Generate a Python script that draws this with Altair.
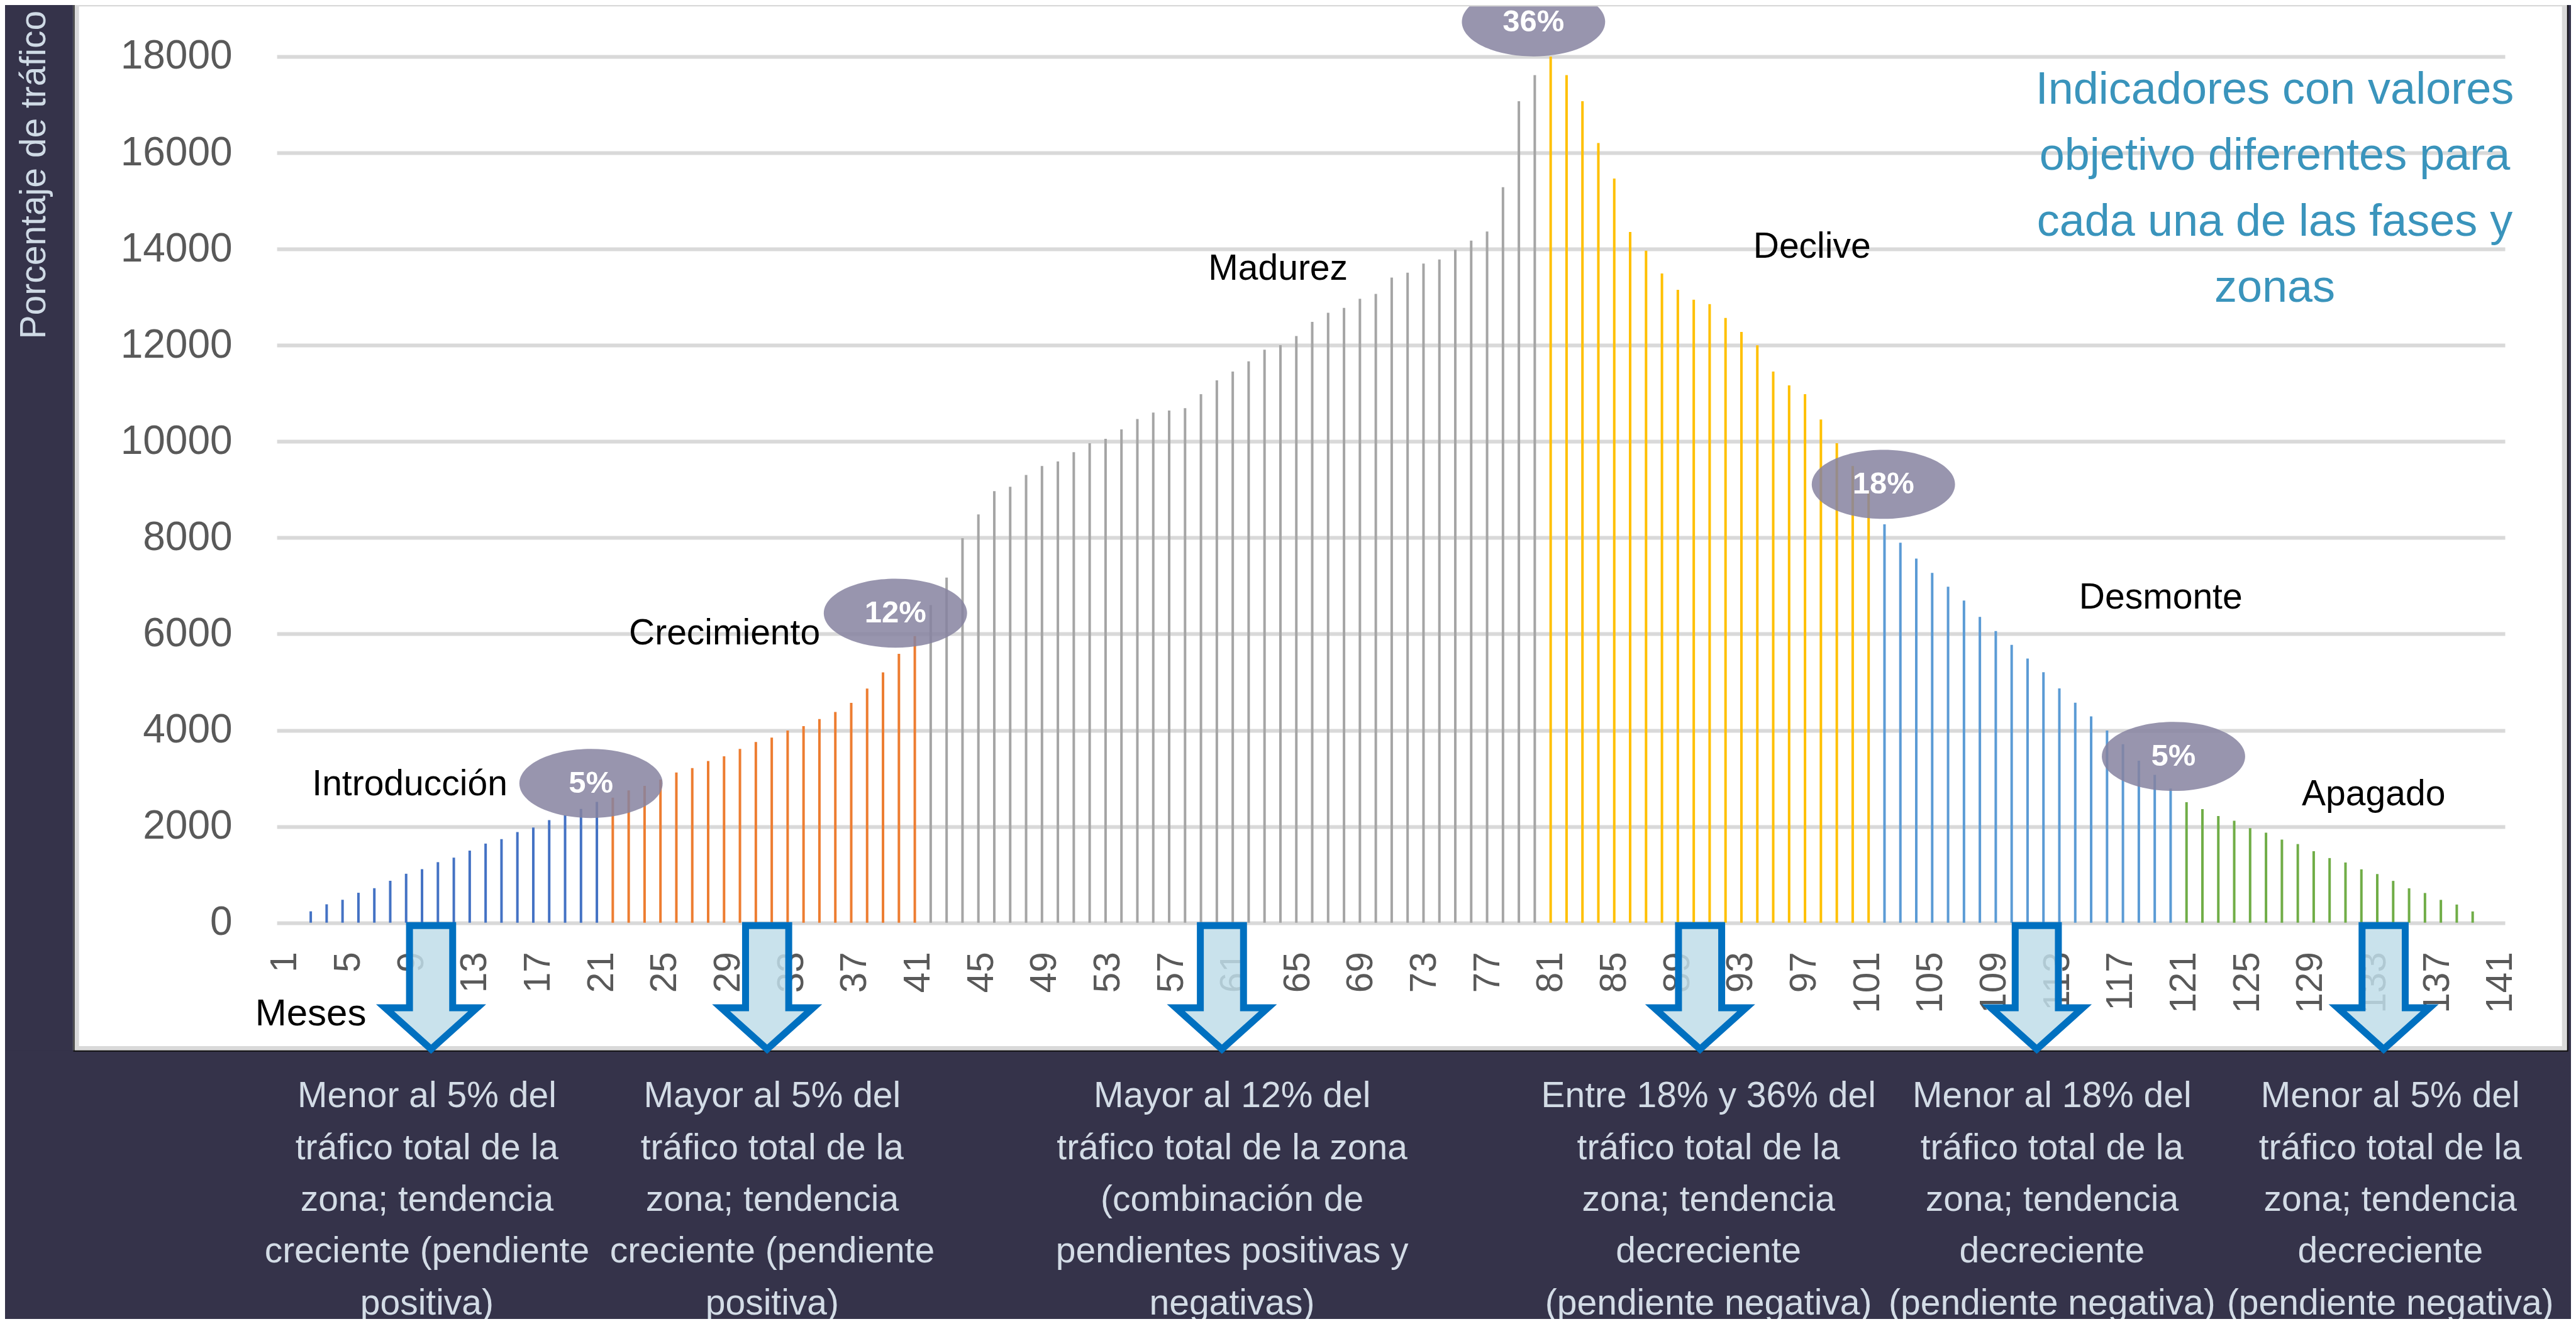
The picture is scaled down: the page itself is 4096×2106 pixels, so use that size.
import altair as alt
import pandas as pd

ESC = 0.915

# ---------------- datos ----------------
valores = [
    236, 382, 476, 622, 717, 871, 1017, 1112, 1258, 1352,
    1498, 1644, 1738, 1884, 1979, 2133, 2232, 2365, 2510,
    2600, 2750, 2845, 2976, 3122, 3213, 3360, 3457, 3610, 3756,
    3848, 3994, 4085, 4232, 4378, 4567, 4866, 5201, 5587, 5958,
    6600, 7172, 7992, 8483, 8967, 9059, 9306, 9491, 9584, 9779,
    9964, 10057, 10252, 10468, 10602, 10643, 10694, 10982, 11270, 11455,
    11665, 11907, 12004, 12191, 12487, 12676, 12776, 12965, 13066, 13406,
    13507, 13696, 13784, 13986, 14175, 14364, 15284, 17073, 17615,
    18000, 17615, 17073, 16204, 15464, 14355, 13964, 13491, 13152, 12946,
    12854, 12566, 12278, 12000, 11455, 11167, 10982, 10458, 9964, 9491, 8967,
    8278, 7897, 7568, 7270, 6982, 6694, 6355, 6060, 5773, 5491,
    5206, 4869, 4571, 4286, 3994, 3709, 3366, 3074, 2789,
    2503, 2360, 2217, 2120, 1966, 1869, 1726, 1634, 1486, 1343,
    1251, 1109, 1011, 869, 714, 617, 474, 377, 234,
]
fase_nombres = ["Introducción", "Crecimiento", "Madurez", "Declive", "Desmonte", "Apagado"]
fase_longitudes = [19, 20, 39, 21, 19, 19]
fase_colores = ["#4472c4", "#ed7d31", "#a5a5a5", "#ffc000", "#5b9bd5", "#70ad47"]

etiquetas_meses = list(range(1, 142, 4))
ticks_y = [0, 2000, 4000, 6000, 8000, 10000, 12000, 14000, 16000, 18000]

porcentajes = ["5%", "12%", "36%", "18%", "5%"]
porc_i = [18.63, 37.78, 77.92, 99.93, 118.18]
porc_v = [2893, 6432, 18721, 9109, 3455]

fase_etq_i = [7.23, 27.03, 61.85, 95.44, 117.38, 130.77]
fase_etq_v = [2654, 5786, 13365, 13820, 6527, 2439]

indicador_lineas = ["Indicadores con valores", "objetivo diferentes para",
                    "cada una de las fases y", "zonas"]
indicador_i = [124.55]
indicador_v = [17024]

notas = [
    ["Menor al 5% del", "tráfico total de la", "zona; tendencia", "creciente (pendiente", "positiva)"],
    ["Mayor al 5% del", "tráfico total de la", "zona; tendencia", "creciente (pendiente", "positiva)"],
    ["Mayor al 12% del", "tráfico total de la zona", "(combinación de", "pendientes positivas y", "negativas)"],
    ["Entre 18% y 36% del", "tráfico total de la", "zona; tendencia", "decreciente", "(pendiente negativa)"],
    ["Menor al 18% del", "tráfico total de la", "zona; tendencia", "decreciente", "(pendiente negativa)"],
    ["Menor al 5% del", "tráfico total de la", "zona; tendencia", "decreciente", "(pendiente negativa)"],
]
notas_i = [8.31, 30.03, 58.96, 88.93, 110.54, 131.82]
flechas_i = [8.57, 29.71, 58.32, 88.40, 109.58, 131.40]

# ---------------- tablas ----------------
fase_por_barra = []
for nombre, n in zip(fase_nombres, fase_longitudes):
    fase_por_barra += [nombre] * n
df_barras = pd.DataFrame({"i": list(range(1, len(valores) + 1)), "valor": valores, "fase": fase_por_barra})
df_porc = pd.DataFrame({"i": porc_i, "valor": porc_v, "t": porcentajes})
df_fases = pd.DataFrame({"i": fase_etq_i, "valor": fase_etq_v, "t": fase_nombres})
df_ind = pd.DataFrame({"i": indicador_i, "valor": indicador_v, "t": ["\n".join(indicador_lineas)]})
df_notas = pd.DataFrame({"i": notas_i, "t": ["\n".join(n) for n in notas]})
df_flechas = pd.DataFrame({"i": flechas_i})
df_meses = pd.DataFrame({"mes": etiquetas_meses})
uno = pd.DataFrame({"a": [0]})

# ---------------- layout helpers (reference px -> plot px) ----------------
X0 = ESC * 481 - 8
Y0 = ESC * 98.3 - 8
PW = ESC * (4353 - 481)
PH = ESC * (1604 - 98.3)
VW, VH = 4080, 2090


def px(fx):
    return ESC * fx - 8 - X0


def py(fy):
    return ESC * fy - 8 - Y0


DARK = "#35334a"
SANS = "Liberation Sans, Arial, sans-serif"

XS = alt.Scale(domain=[-1.136, 139.03], nice=False, zero=False)
YS = alt.Scale(domain=[0, 18000], nice=False, zero=True)
Y_AXIS = alt.Axis(values=ticks_y, format="d", grid=True, gridColor="#d9d9d9", gridWidth=6,
                  domain=False, ticks=False, tickSize=0, labelFont=SANS, labelFontSize=64,
                  labelColor="#595959", labelPadding=71, labelOverlap=False, labelFlush=False,
                  title=None)


def X():
    return alt.X("i:Q", scale=XS, axis=None)


def Y():
    return alt.Y("valor:Q", scale=YS, axis=Y_AXIS)


def rect(x1, x2, y1, y2, **kw):
    return alt.Chart(uno).mark_rect(**kw).encode(
        x=alt.value(x1), x2=alt.value(x2), y=alt.value(y1), y2=alt.value(y2))


fondo_izq = rect(px(-20), px(127), py(-20), py(2400), color=DARK)
fondo_der = rect(px(4461), px(4500), py(-20), py(2400), color=DARK)
fondo_inf = rect(px(-20), px(4500), py(1826), py(2400), color=DARK)
borde = rect(px(133.5), px(4456), py(7.5), py(1822.5), fillOpacity=0, stroke="#d9d9d9", strokeWidth=7)
borde_negro = rect(px(128.5), px(4462), py(2.5), py(1827), fillOpacity=0, stroke="#111111", strokeWidth=2)

barras = alt.Chart(df_barras).mark_rule(strokeWidth=4).encode(
    x=X(), y=Y(), y2=alt.datum(0),
    color=alt.Color("fase:N", scale=alt.Scale(domain=fase_nombres, range=fase_colores), legend=None),
)

ELIPSE = "M -1 0 A 1 0.482 0 1 0 1 0 A 1 0.482 0 1 0 -1 0 Z"
elipses = alt.Chart(df_porc).mark_point(
    shape=ELIPSE, size=(ESC * 249) ** 2, filled=True, fill="#8683a0", opacity=0.85, strokeWidth=0
).encode(x=X(), y=Y())
porc_txt = alt.Chart(df_porc).mark_text(
    font=SANS, fontWeight="bold", fontSize=49, color="#ffffff", align="center", baseline="middle"
).encode(x=X(), y=Y(), text="t:N")

fases_txt = alt.Chart(df_fases).mark_text(
    font=SANS, fontSize=57, color="#000000", align="center", baseline="alphabetic"
).encode(x=X(), y=Y(), text="t:N")

ind_txt = alt.Chart(df_ind).mark_text(
    font=SANS, fontSize=72, color="#3a94bc", align="center", baseline="alphabetic",
    lineBreak="\n", lineHeight=ESC * 115
).encode(x=X(), y=Y(), text="t:N")

FLECHA = "M -0.349 -1 L 0.349 -1 L 0.349 0.33 L 0.744 0.33 L 0 1 L -0.744 0.33 L -0.349 0.33 Z"
flechas = alt.Chart(df_flechas).mark_point(
    shape=FLECHA, size=(ESC * 215) ** 2, filled=True, fill="#bfdde9", fillOpacity=0.85,
    stroke="#0070c0", strokeWidth=11, strokeOpacity=1, opacity=1, strokeJoin="miter"
).encode(x=X(), y=alt.value(py(1716.5)))

notas_txt = alt.Chart(df_notas).mark_text(
    font=SANS, fontSize=57, color="#d3dce6", align="center", baseline="alphabetic",
    lineBreak="\n", lineHeight=ESC * 90
).encode(x=X(), y=alt.value(py(1925)), text="t:N")

meses_txt = alt.Chart(uno).mark_text(
    font=SANS, fontSize=60, color="#000000", align="center", baseline="alphabetic"
).encode(x=alt.value(px(540)), y=alt.value(py(1782)), text=alt.value("Meses"))

ytitulo = alt.Chart(uno).mark_text(
    font=SANS, fontSize=57, color="#cfdae5", align="center", baseline="middle", angle=270
).encode(x=alt.value(px(60)), y=alt.value(py(304)), text=alt.value("Porcentaje de tráfico"))

interior = alt.layer(
    fondo_izq, fondo_der, fondo_inf, barras, elipses, borde, borde_negro, porc_txt, fases_txt,
    ind_txt, flechas, notas_txt, meses_txt, ytitulo
)

eje_meses = alt.Chart(df_meses).mark_point(opacity=0).encode(
    x=alt.X("mes:Q", scale=alt.Scale(domain=[0.49, 141.29], nice=False, zero=False),
            axis=alt.Axis(values=etiquetas_meses, format="d", orient="bottom", labelAngle=-90,
                          labelFont=SANS, labelFontSize=58.5, labelColor="#595959",
                          labelPadding=46, labelOverlap=False, labelFlush=False,
                          grid=False, domain=False, ticks=False, tickSize=0, title=None)),
    y=alt.value(0),
)

chart = alt.layer(interior, eje_meses).resolve_scale(x="independent").properties(
    width=PW, height=PH,
    padding={"left": X0, "top": Y0, "right": VW - X0 - PW, "bottom": VH - Y0 - PH},
    autosize=alt.AutoSizeParams(type="none"),
    background="#ffffff",
).configure_view(strokeWidth=0)

chart.save("out.html", embed_options={"renderer": "svg", "actions": False})
